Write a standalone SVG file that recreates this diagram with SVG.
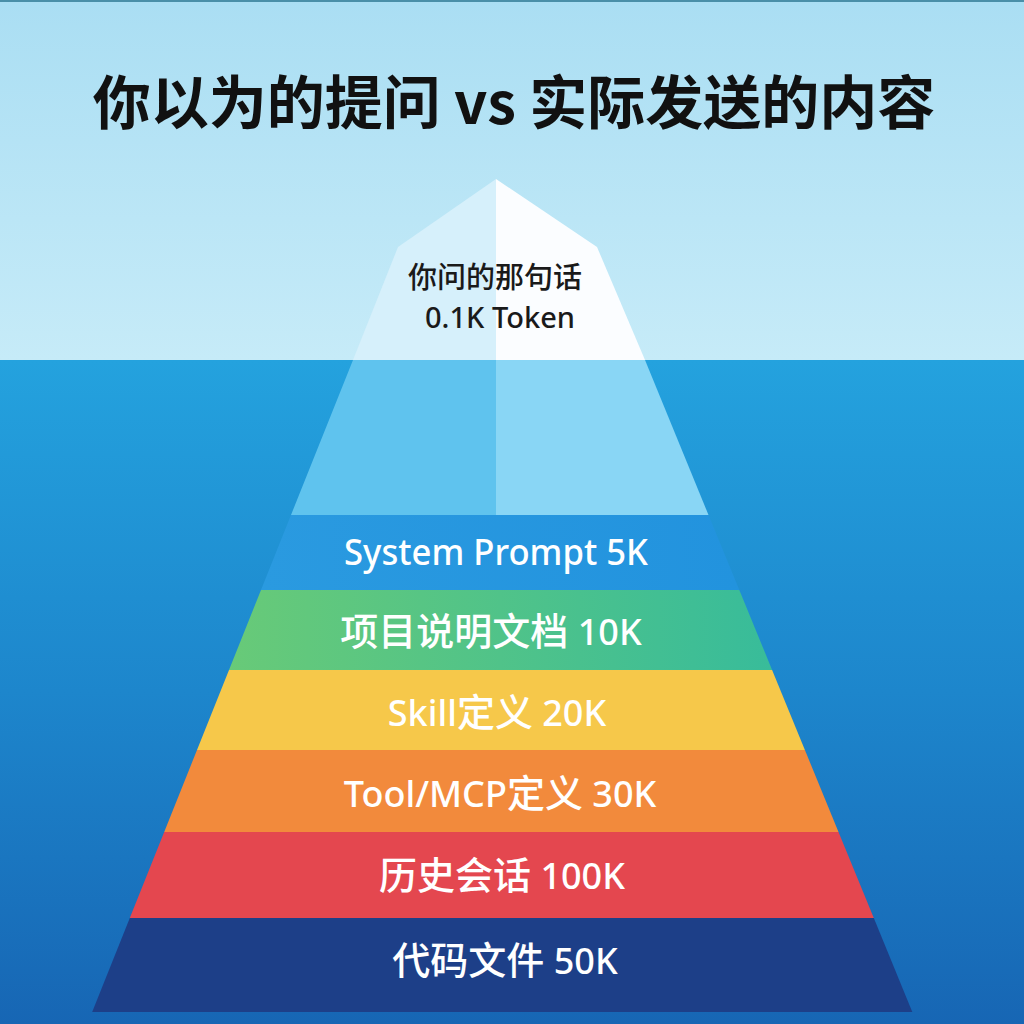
<svg xmlns="http://www.w3.org/2000/svg" width="1024" height="1024" viewBox="0 0 1024 1024">
  <defs>
    <linearGradient id="sky" x1="0" y1="0" x2="0" y2="1">
      <stop offset="0" stop-color="#aadef3"/>
      <stop offset="1" stop-color="#c6ebf8"/>
    </linearGradient>
    <linearGradient id="water" x1="0" y1="0" x2="0" y2="1">
      <stop offset="0" stop-color="#24a2de"/>
      <stop offset="0.5" stop-color="#1d86cc"/>
      <stop offset="1" stop-color="#1766b4"/>
    </linearGradient>
    <linearGradient id="green" x1="0" y1="0" x2="1" y2="0">
      <stop offset="0" stop-color="#68ca78"/>
      <stop offset="1" stop-color="#38bc9a"/>
    </linearGradient>
    <linearGradient id="blueband" x1="0" y1="0" x2="1" y2="0">
      <stop offset="0" stop-color="#2a9ae0"/>
      <stop offset="1" stop-color="#2293de"/>
    </linearGradient>
    <style>
      .title{font-family:"Noto Sans CJK SC","Noto Sans",sans-serif;font-weight:700;font-size:58px;fill:#111;text-anchor:middle}
      .tip{font-family:"Noto Sans","Noto Sans CJK SC",sans-serif;font-weight:500;font-size:29px;fill:#1a1a1a;text-anchor:middle}
      .lbl{font-family:"Noto Sans","Noto Sans CJK SC",sans-serif;font-weight:500;font-size:36px;fill:#ffffff;text-anchor:middle}
      .cjk{font-size:38px}
    </style>
  </defs>

  <!-- background -->
  <rect x="0" y="0" width="1024" height="360" fill="url(#sky)"/>
  <rect x="0" y="360" width="1024" height="664" fill="url(#water)"/>
  <rect x="0" y="0" width="1024" height="2" fill="#4a8fa8"/>

  <text class="title" x="514" y="124">你以为的提问 vs 实际发送的内容</text>

  <g id="node-tip">
    <polygon points="496,179 398,247 353,360 496,360" fill="#d6f0fb"/>
    <polygon points="496,179 597,247 645,360 496,360" fill="#fbfdff"/>
    <text class="tip" x="495" y="288">你问的那句话</text>
    <text class="tip" x="500" y="328">0.1K Token</text>
  </g>

  <g id="node-underwater">
    <polygon points="353,360 496,360 496,515 291,515" fill="#5fc3ee"/>
    <polygon points="496,360 645,360 708.5,515 496,515" fill="#89d6f5"/>
  </g>

  <g id="node-system">
    <polygon points="291,515 708.5,515 739.3,590 261,590" fill="url(#blueband)"/>
    <text class="lbl" x="496" y="565" textLength="304" lengthAdjust="spacingAndGlyphs">System Prompt 5K</text>
  </g>

  <g id="node-project">
    <polygon points="261,590 739.3,590 772.1,670 229,670" fill="url(#green)"/>
    <text class="lbl" x="491" y="645"><tspan class="cjk">项目说明文档</tspan> 10K</text>
  </g>

  <g id="node-skill">
    <polygon points="229,670 772.1,670 804.9,750 197,750" fill="#f6c84a"/>
    <text class="lbl" x="497" y="726">Skill<tspan class="cjk">定义</tspan> 20K</text>
  </g>

  <g id="node-tool">
    <polygon points="197,750 804.9,750 838.5,832 164.2,832" fill="#f28a3c"/>
    <text class="lbl" x="500" y="807">Tool/MCP<tspan class="cjk">定义</tspan> 30K</text>
  </g>

  <g id="node-history">
    <polygon points="164.2,832 838.5,832 873.8,918 129.8,918" fill="#e4474f"/>
    <text class="lbl" x="502" y="889"><tspan class="cjk">历史会话</tspan> 100K</text>
  </g>

  <g id="node-code">
    <polygon points="129.8,918 873.8,918 912.3,1012 92.2,1012" fill="#1d3f88"/>
    <text class="lbl" x="505" y="974"><tspan class="cjk">代码文件</tspan> 50K</text>
  </g>

  <g id="connectors"/>
</svg>
